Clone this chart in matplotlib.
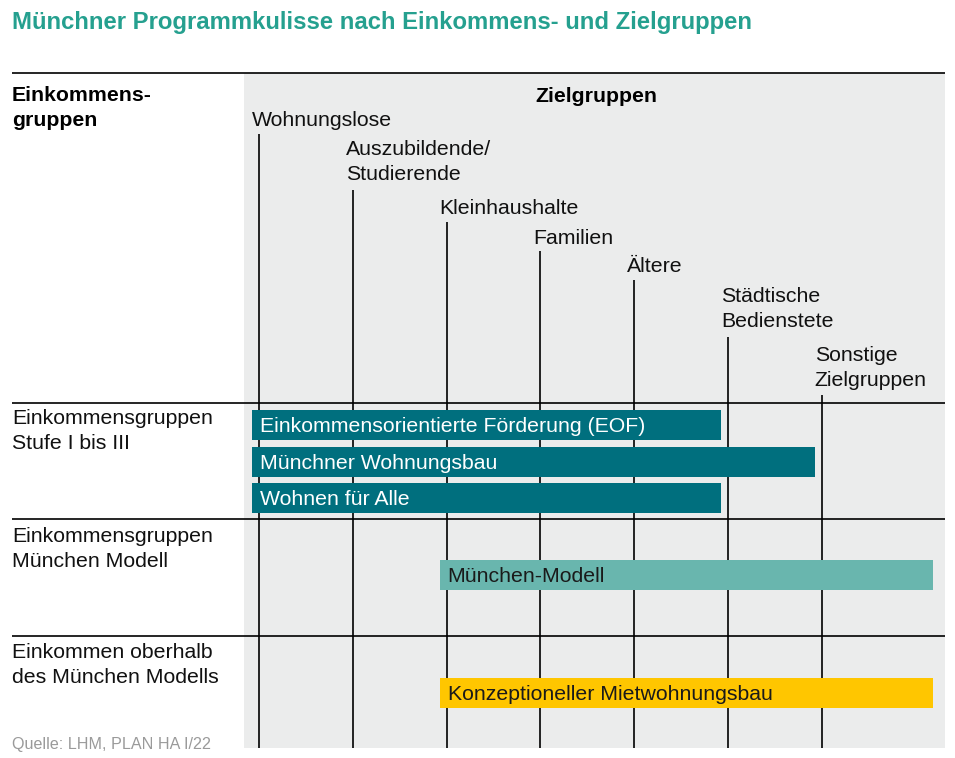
import matplotlib
matplotlib.use("Agg")
import matplotlib.pyplot as plt
from matplotlib.patches import Rectangle

plt.rcParams['font.family'] = ['Liberation Sans', 'DejaVu Sans']

# ---- data ----
title = "Münchner Programmkulisse nach Einkommens- und Zielgruppen"
target_groups = ["Wohnungslose", "Auszubildende/\nStudierende", "Kleinhaushalte",
                 "Familien", "Ältere", "Städtische\nBedienstete", "Sonstige\nZielgruppen"]
income_groups = ["Einkommensgruppen\nStufe I bis III",
                 "Einkommensgruppen\nMünchen Modell",
                 "Einkommen oberhalb\ndes München Modells"]
programs = ["Einkommensorientierte Förderung (EOF)", "Münchner Wohnungsbau",
            "Wohnen für Alle", "München-Modell", "Konzeptioneller Mietwohnungsbau"]
program_income_row = [0, 0, 0, 1, 2]
program_from = [-0.075, -0.075, -0.075, 1.925, 1.925]   # in target-group units
program_to = [4.925, 5.925, 4.925, 7.185, 7.185]
source = "Quelle: LHM, PLAN HA I/22"

# ---- styles / layout ----
TITLE_C = '#25a08f'
BAR_COLORS = ['#006f7e', '#006f7e', '#006f7e', '#69b6ae', '#ffc600']
TEXT_COLORS = ['white', 'white', 'white', '#1a1a1a', '#1a1a1a']
BG = '#ebecec'
FS = 15.3
LS = 1.42

W, H = 955, 758
X0, DX = 259, 93.8
def gx(px):
    return (px - X0) / DX

fig = plt.figure(figsize=(W / 100, H / 100), dpi=100)
ax = fig.add_axes([0, 0, 1, 1])
ax.set_xlim(gx(0), gx(W))
ax.set_ylim(H, 0)
ax.axis('off')

# grey background of the target-group area
ax.add_patch(Rectangle((gx(244), 73), gx(945) - gx(244), 748 - 73,
                       facecolor=BG, edgecolor='none', zorder=0))

# title
ax.text(gx(12), 23, title, fontsize=17.2, fontweight='bold', color=TITLE_C,
        va='center', ha='left')

# horizontal rules
row_lines = [73, 403, 519, 636]
ax.hlines(row_lines, gx(12), gx(945), color='black', lw=1.2, zorder=2)

# headers
ax.text(gx(12), 108, "Einkommens-\ngruppen", fontsize=FS, fontweight='bold',
        va='center', ha='left', linespacing=LS)
ax.text(gx(596), 96, "Zielgruppen", fontsize=FS, fontweight='bold',
        va='center', ha='center')

# target group labels and vertical lines
label_centers = [121, 162, 208, 238, 267, 309, 368]
line_tops = [134, 190, 222, 251, 280, 337, 395]
for i, (lab, yc, yt) in enumerate(zip(target_groups, label_centers, line_tops)):
    ax.text(i - 7 / DX, yc, lab, fontsize=FS, va='center', ha='left',
            linespacing=LS, color='#111111')
    ax.vlines(i, yt, 748, color='black', lw=1.2, zorder=1)

# income group labels
income_centers = [431, 549, 665]
for lab, yc in zip(income_groups, income_centers):
    ax.text(gx(12), yc, lab, fontsize=FS, va='center', ha='left',
            linespacing=LS, color='#111111')

# program bars
slot_y = {0: [425, 462, 498], 1: [575], 2: [693]}
used = {0: 0, 1: 0, 2: 0}
for name, row, x0, x1, c, tc in zip(programs, program_income_row, program_from,
                                     program_to, BAR_COLORS, TEXT_COLORS):
    y = slot_y[row][used[row]]
    used[row] += 1
    ax.barh(y, x1 - x0, left=x0, height=30, color=c, zorder=3)
    ax.text(x0 + 8 / DX, y + 1.5, name, fontsize=FS, color=tc, va='center',
            ha='left', zorder=4)

ax.text(gx(12), 744, source, fontsize=11.6, color='#9a9a9a', va='center', ha='left')

fig.savefig("out.png", dpi=100)
